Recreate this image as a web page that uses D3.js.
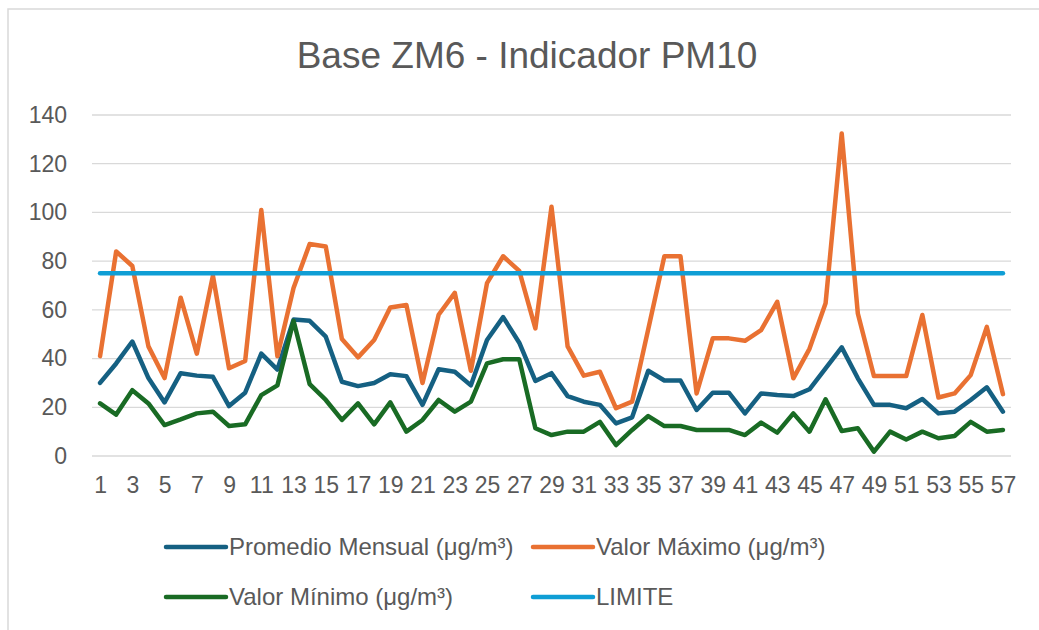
<!DOCTYPE html>
<html>
<head>
<meta charset="utf-8">
<script src="https://cdn.jsdelivr.net/npm/d3@7"></script>
<style>
  body { margin: 0; background: #fff; }
  svg { display: block; font-family: "Liberation Sans", Arial, sans-serif; }
</style>
</head>
<body>
<svg id="chart" width="1039" height="630"></svg>
<script>
// chart data
const months = d3.range(1, 58).map(String)
const promedio = [30, 38, 47, 32, 22, 34, 33, 32.5, 20.5, 26,
  42, 35.5, 56, 55.5, 49, 30.5, 28.7, 30, 33.6, 32.8,
  21, 35.6, 34.6, 29, 47.6, 57, 46.5, 30.8, 34, 24.6,
  22.3, 21, 13.4, 15.9, 35, 31, 31, 18.9, 26, 26,
  17.5, 25.7, 25, 24.6, 27.4, 36, 44.6, 31.9, 21, 21,
  19.6, 23.4, 17.5, 18.2, 23, 28.2, 18.2]
const maximo = [41, 84, 78, 45, 32, 65, 42, 74, 36, 39,
  101, 41, 69, 87, 86, 48, 40.5, 47.6, 61, 62,
  30, 58, 67, 35, 71, 82, 76, 52.4, 102.3, 45,
  33, 34.6, 19.6, 22.3, 52, 82, 82, 25.7, 48.3, 48.3,
  47.3, 51.7, 63.3, 31.9, 44, 62.7, 132.4, 58.5, 32.8, 32.8,
  32.8, 57.9, 24, 25.7, 33.2, 53, 25.4]
const minimo = [21.6, 17, 27, 21.6, 12.7, 15, 17.5, 18.2, 12.3, 13,
  25, 29, 55.5, 29.5, 23, 14.8, 21.6, 13, 22, 10,
  14.8, 23, 18.2, 22.3, 38, 39.7, 39.7, 11.4, 8.6, 10,
  10, 14, 4.5, 10.7, 16.4, 12.3, 12.3, 10.7, 10.7, 10.7,
  8.6, 13.7, 9.6, 17.5, 10, 23.3, 10.3, 11.4, 1.8, 10,
  6.8, 10, 7.3, 8.2, 14, 10, 10.7]
const limite = months.map(() => 75)
const yTicks = [0, 20, 40, 60, 80, 100, 120, 140]
const seriesNames = ['Promedio Mensual (μg/m³)', 'Valor Máximo (μg/m³)', 'Valor Mínimo (μg/m³)', 'LIMITE']

const colors = ['#156082', '#E97132', '#196B24', '#0F9ED5']
const series = [promedio, maximo, minimo, limite]

const svg = d3.select('#chart')
const margin = { top: 115, left: 92, right: 28, bottom: 174 }
const width = 1039 - margin.left - margin.right
const height = 630 - margin.top - margin.bottom

// Chart frame
svg.append('path')
  .attr('d', 'M8,630V9H1039')
  .attr('fill', 'none')
  .attr('stroke', '#d9d9d9')
  .attr('stroke-width', 1.5)

// Title
svg.append('text')
  .attr('x', 527)
  .attr('y', 68)
  .attr('text-anchor', 'middle')
  .attr('fill', '#595959')
  .style('font-size', '37px')
  .text('Base ZM6 - Indicador PM10')

const g = svg.append('g')
  .attr('transform', `translate(${margin.left},${margin.top})`)

const x = d3.scalePoint().domain(months).range([0, width]).padding(0.5)
const y = d3.scaleLinear().domain([0, 140]).range([height, 0])

// Gridlines
g.append('g')
  .selectAll('line')
  .data(yTicks)
  .enter().append('line')
  .attr('x1', 0).attr('x2', width)
  .attr('y1', d => y(d)).attr('y2', d => y(d))
  .attr('stroke', '#d9d9d9')
  .attr('stroke-width', 1.3)

// y-axis labels
const yAxis = g.append('g')
  .call(d3.axisLeft(y).tickValues(yTicks).tickSize(0).tickPadding(25))
yAxis.select('.domain').remove()
yAxis.selectAll('text')
  .attr('fill', '#595959')
  .style('font-size', '23px')
  .style('font-family', '"Liberation Sans", Arial, sans-serif')

// x-axis labels (every other month)
const xAxis = g.append('g')
  .attr('transform', `translate(0,${height})`)
  .call(d3.axisBottom(x).tickValues(months.filter((d, i) => i % 2 === 0)).tickSize(0).tickPadding(21))
xAxis.select('.domain').remove()
xAxis.selectAll('text')
  .attr('fill', '#595959')
  .style('font-size', '23px')
  .style('font-family', '"Liberation Sans", Arial, sans-serif')

// Lines
const line = d3.line()
  .x((d, i) => x(months[i]))
  .y(d => y(d))

series.forEach((data, k) => {
  g.append('path')
    .datum(data)
    .attr('fill', 'none')
    .attr('stroke', colors[k])
    .attr('stroke-width', 4.5)
    .attr('stroke-linejoin', 'round')
    .attr('stroke-linecap', 'round')
    .attr('d', line)
})

// Legend, two rows of two
const legendPos = [[166, 547], [533, 547], [166, 597], [533, 597]]
const legend = svg.append('g')
  .selectAll('g')
  .data(seriesNames)
  .enter().append('g')
  .attr('transform', (d, i) => `translate(${legendPos[i][0]},${legendPos[i][1]})`)

legend.append('line')
  .attr('x1', 0).attr('x2', 60)
  .attr('stroke', (d, i) => colors[i])
  .attr('stroke-width', 4.5)
  .attr('stroke-linecap', 'round')

legend.append('text')
  .attr('x', 63)
  .attr('y', 8)
  .attr('fill', '#595959')
  .style('font-size', '24px')
  .text(d => d)
</script>
</body>
</html>
